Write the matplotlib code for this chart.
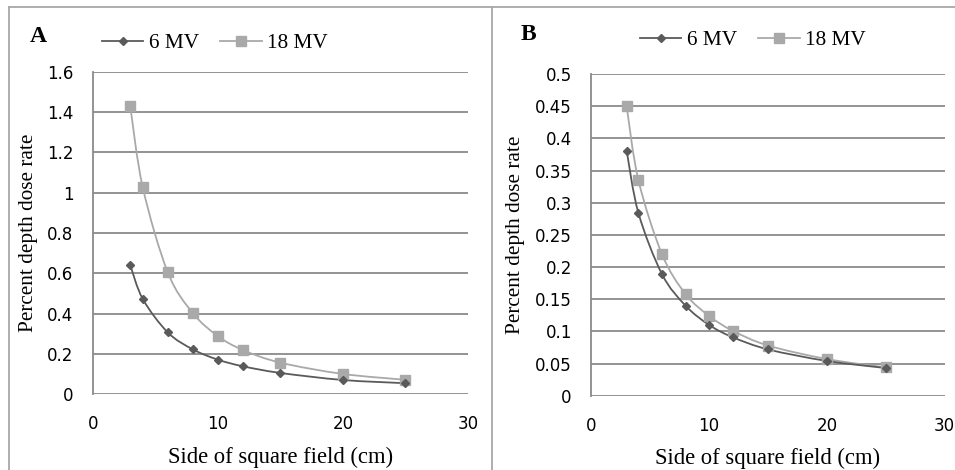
import matplotlib
matplotlib.use('Agg')
import matplotlib.pyplot as plt
from matplotlib.path import Path
from matplotlib.patches import PathPatch
from matplotlib.lines import Line2D
import numpy as np

# --- data ---
field_side = [3, 4, 6, 8, 10, 12, 15, 20, 25]

a_6mv = [0.641, 0.473, 0.307, 0.223, 0.172, 0.139, 0.106, 0.071, 0.055]
a_18mv = [1.430, 1.027, 0.605, 0.403, 0.289, 0.220, 0.157, 0.101, 0.072]

b_6mv = [0.381, 0.284, 0.189, 0.140, 0.110, 0.091, 0.072, 0.054, 0.043]
b_18mv = [0.450, 0.335, 0.220, 0.158, 0.124, 0.101, 0.078, 0.057, 0.044]

a_yticks = [0, 0.2, 0.4, 0.6, 0.8, 1, 1.2, 1.4, 1.6]
a_yticklabels = ['0', '0.2', '0.4', '0.6', '0.8', '1', '1.2', '1.4', '1.6']
b_yticks = [0, 0.05, 0.1, 0.15, 0.2, 0.25, 0.3, 0.35, 0.4, 0.45, 0.5]
b_yticklabels = ['0', '0.05', '0.1', '0.15', '0.2', '0.25', '0.3', '0.35', '0.4', '0.45', '0.5']
xticks = [0, 10, 20, 30]

C6 = '#5a5a5a'
C18 = '#a9a9a9'
GRID = '#8a8a8a'
FRAME = '#a8a8a8'
SERIF = 'Liberation Serif'
SANS = 'DejaVu Sans'
TICK_FS = 12
SERIF_FS = 15.3


def smooth_path(x, y):
    # Excel-style smoothed line: cubic bezier through each point (Catmull-Rom)
    pts = np.column_stack([x, y]).astype(float)
    n = len(pts)
    verts = [pts[0]]
    codes = [Path.MOVETO]
    for i in range(n - 1):
        p_prev = pts[i - 1] if i > 0 else pts[i]
        p_next2 = pts[i + 2] if i + 2 < n else pts[i + 1]
        c1 = pts[i] + (pts[i + 1] - p_prev) / 6.0
        c2 = pts[i + 1] - (p_next2 - pts[i]) / 6.0
        verts += [c1, c2, pts[i + 1]]
        codes += [Path.CURVE4] * 3
    return Path(verts, codes)


def draw_panel(ax, y6, y18, yticks, yticklabels, legend_x, legend_y):
    ax.add_patch(PathPatch(smooth_path(field_side, y18), fill=False,
                           edgecolor=C18, lw=1.3, zorder=3))
    ax.add_patch(PathPatch(smooth_path(field_side, y6), fill=False,
                           edgecolor=C6, lw=1.3, zorder=4))
    ax.plot(field_side, y18, ls='none', marker='s', ms=7, color=C18, zorder=5)
    ax.plot(field_side, y6, ls='none', marker='D', ms=4.5, color=C6, zorder=6)

    ax.set_xlim(0, 30)
    ax.set_ylim(yticks[0], yticks[-1])
    ax.set_xticks(xticks)
    ax.set_xticklabels([str(t) for t in xticks], fontfamily=SANS, fontsize=TICK_FS)
    ax.set_yticks(yticks)
    ax.set_yticklabels(yticklabels, fontfamily=SANS, fontsize=TICK_FS)
    ax.tick_params(length=0, pad=14, colors='black')
    ax.tick_params(axis='x', pad=15)
    ax.grid(axis='y', color=GRID, lw=1.3)
    ax.set_axisbelow(True)
    for s in ['top', 'right', 'bottom']:
        ax.spines[s].set_visible(False)
    ax.spines['left'].set_color(GRID)
    ax.spines['left'].set_linewidth(1.3)

    ax.set_xlabel('Side of square field (cm)', fontfamily=SERIF, fontsize=16.3, labelpad=9.5)
    ax.set_ylabel('Percent depth dose rate', fontfamily=SERIF, fontsize=SERIF_FS)

    handles = [
        Line2D([], [], color=C6, lw=1.3, marker='D', ms=4.5, label='6 MV'),
        Line2D([], [], color=C18, lw=1.3, marker='s', ms=7, label='18 MV'),
    ]
    fig.legend(handles=handles, loc='center left', bbox_to_anchor=(legend_x, 1 - legend_y / 470),
               ncol=2, frameon=False, prop={'family': SERIF, 'size': SERIF_FS},
               handlelength=1.95, handletextpad=0.25, columnspacing=1.0,
               borderaxespad=0, borderpad=0)


fig = plt.figure(figsize=(9.55, 4.7), dpi=100)

ax_a = fig.add_axes([92.7 / 955, 1 - 394.3 / 470, (468 - 92.7) / 955, (394.3 - 71.7) / 470])
ax_b = fig.add_axes([591.3 / 955, 1 - 395.7 / 470, (944.7 - 591.3) / 955, (395.7 - 74) / 470])

draw_panel(ax_a, a_6mv, a_18mv, a_yticks, a_yticklabels, 102 / 955, 43)
draw_panel(ax_b, b_6mv, b_18mv, b_yticks, b_yticklabels, 640 / 955, 40)

ax_a.yaxis.set_label_coords(-0.146, 0.5)
ax_b.yaxis.set_label_coords(-0.187, 0.5)

fig.text(30 / 955, 1 - 36 / 470, 'A', fontfamily=SERIF, fontsize=17, fontweight='bold', va='center')
fig.text(521 / 955, 1 - 34 / 470, 'B', fontfamily=SERIF, fontsize=17, fontweight='bold', va='center')

# outer frame lines
fig.add_artist(Line2D([9 / 955, 1], [1 - 7 / 470, 1 - 7 / 470], color=FRAME, lw=1.3))
fig.add_artist(Line2D([9 / 955, 9 / 955], [0, 1 - 7 / 470], color=FRAME, lw=1.3))
fig.add_artist(Line2D([492 / 955, 492 / 955], [0, 1 - 7 / 470], color=FRAME, lw=1.3))

fig.savefig('out.png', dpi=100)
